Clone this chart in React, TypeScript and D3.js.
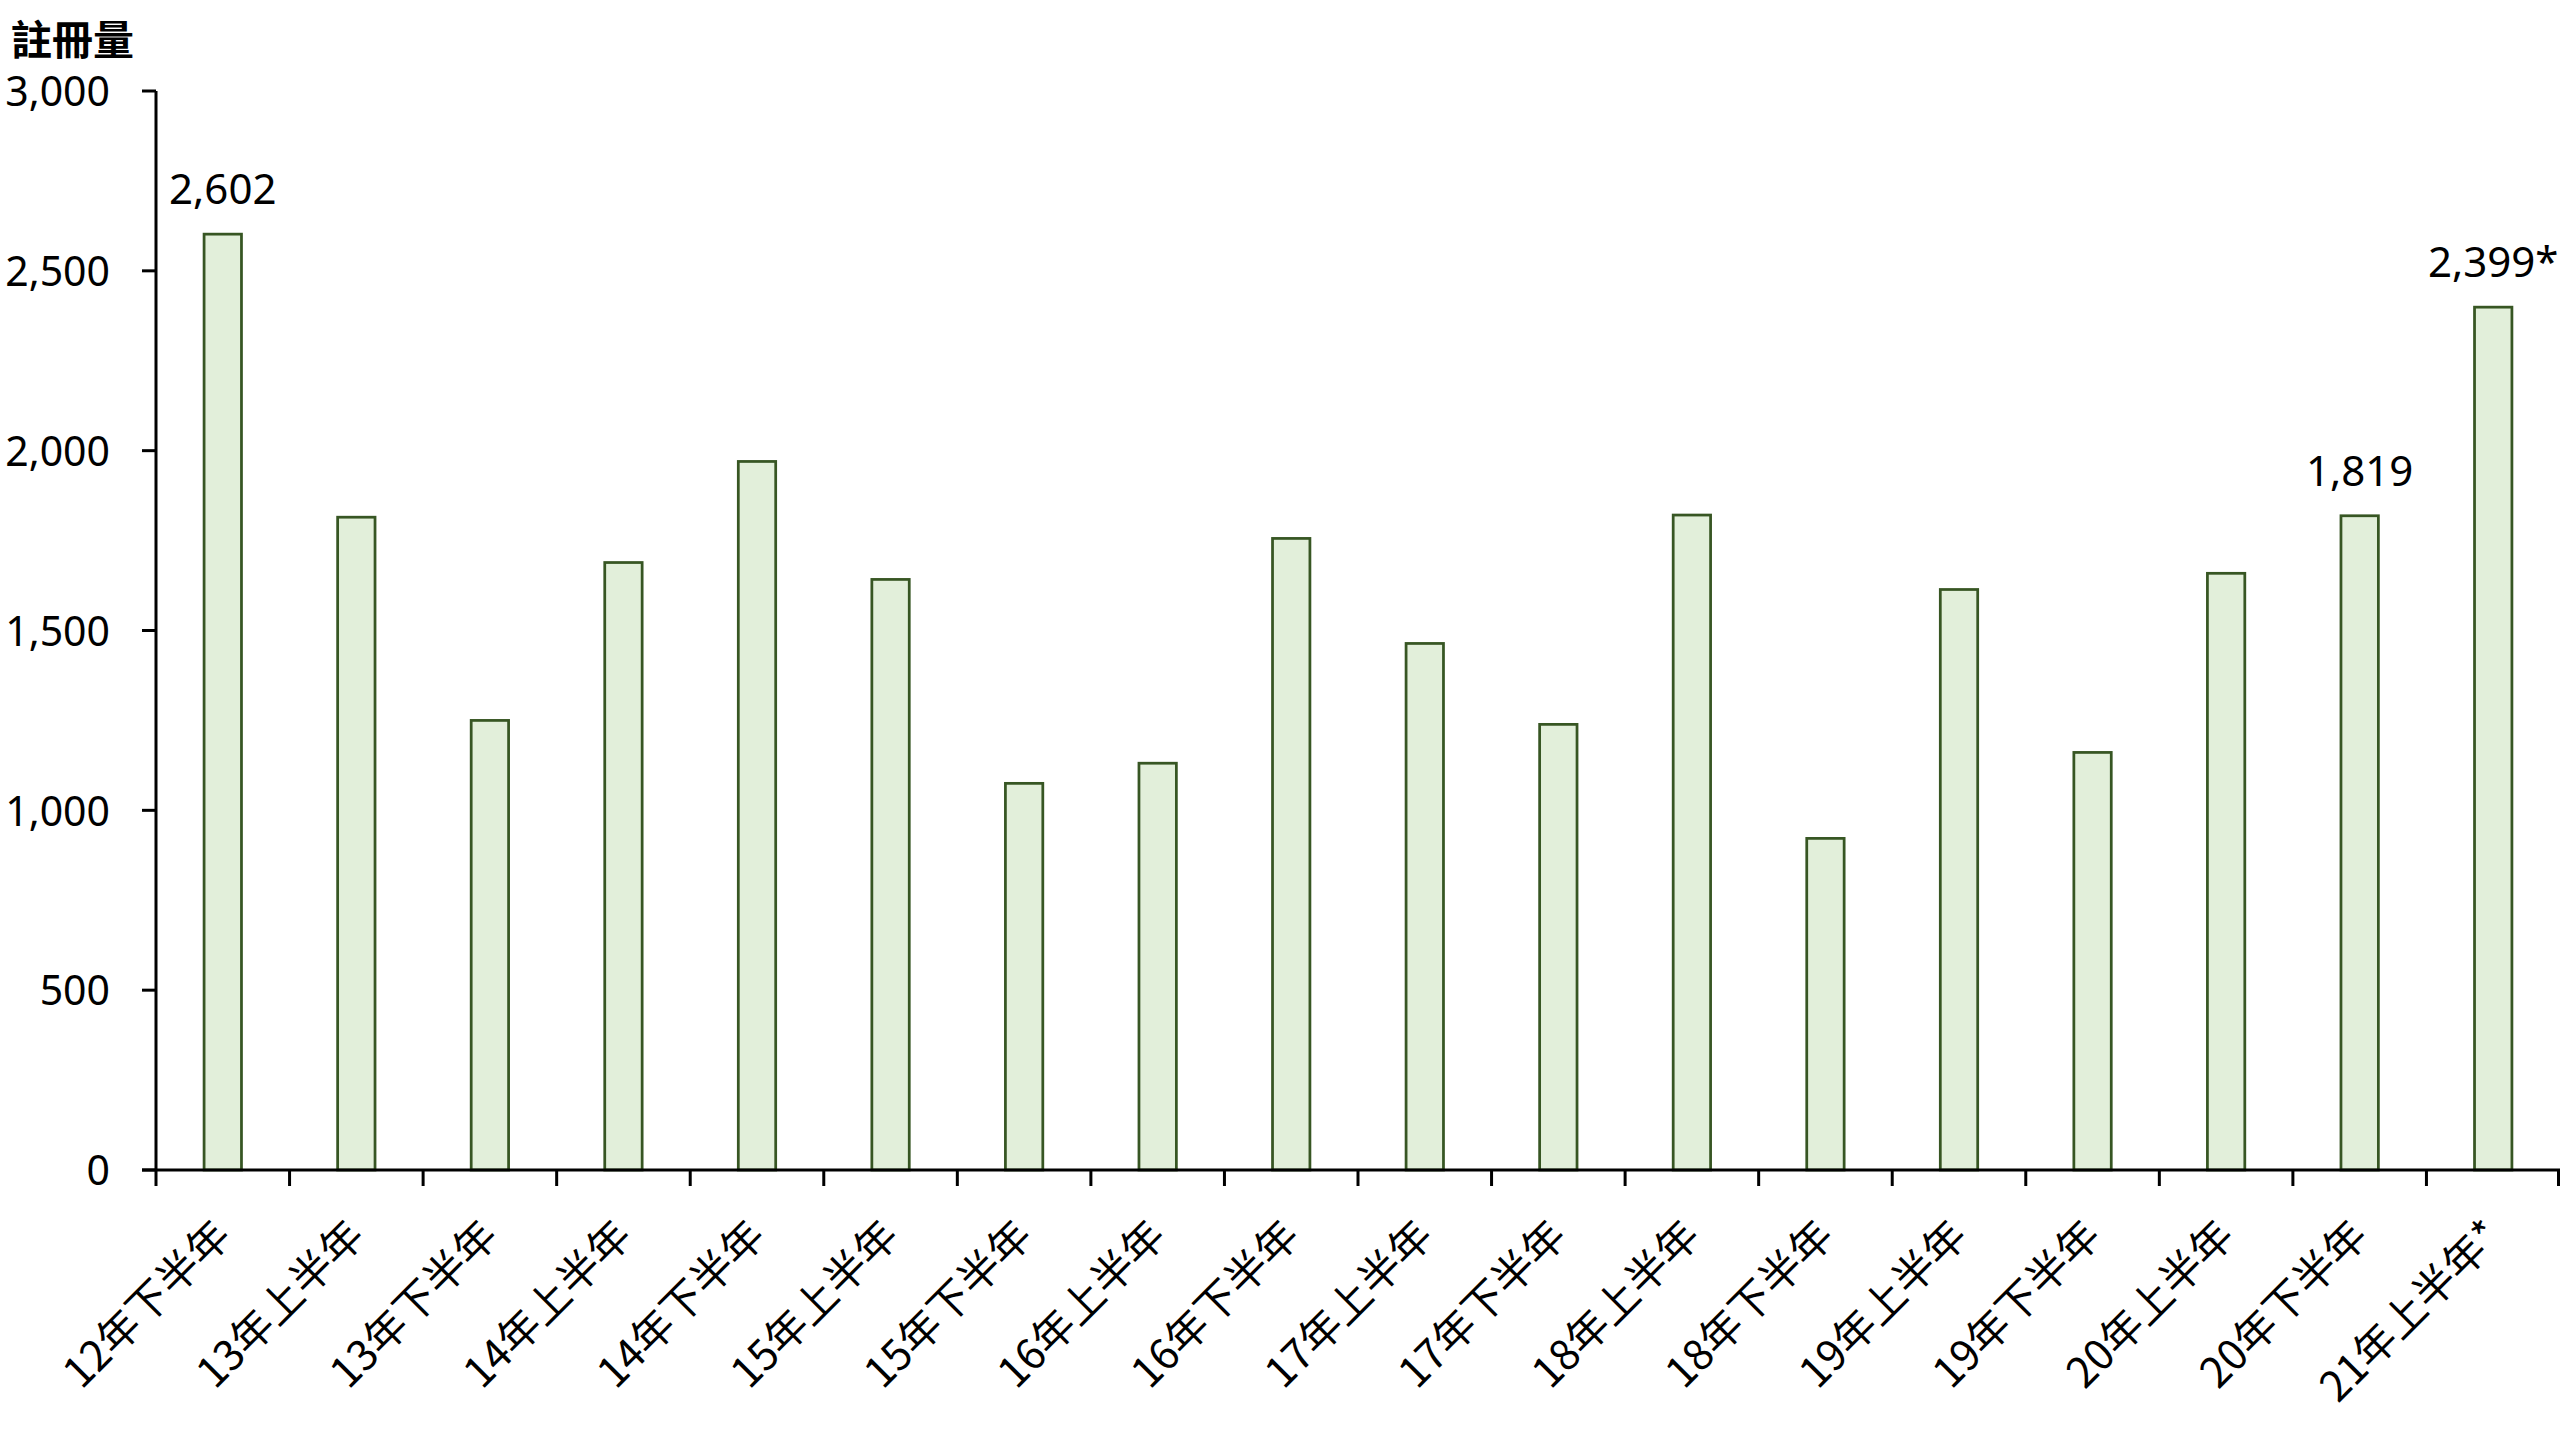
import React from "react";
import * as d3 from "d3";

const categories = [
  "12年下半年", "13年上半年", "13年下半年", "14年上半年", "14年下半年", "15年上半年",
  "15年下半年", "16年上半年", "16年下半年", "17年上半年", "17年下半年", "18年上半年",
  "18年下半年", "19年上半年", "19年下半年", "20年上半年", "20年下半年", "21年上半年*",
];
const values = [2602, 1815, 1250, 1689, 1970, 1642, 1075, 1131, 1756, 1464, 1239, 1821, 922, 1614, 1161, 1659, 1819, 2399];
const labelled: Record<number, string> = { 0: "2,602", 16: "1,819", 17: "2,399*" };
const yTicks = [0, 500, 1000, 1500, 2000, 2500, 3000];
const yTitle = "註冊量";

const W = 2560;
const H = 1440;
const left = 156;
const right = 2560;
const top = 91;
const bottom = 1170;
const FONT = "'Noto Sans', 'Noto Sans CJK TC', sans-serif";
const CJK = "'Noto Sans CJK TC', 'Noto Sans', sans-serif";

export default function App() {
  const x = d3.scaleBand<string>().domain(categories).range([left, right]).padding(0);
  const y = d3.scaleLinear().domain([0, 3000]).range([bottom, top]);
  const bw = x.bandwidth();
  const barW = bw * 0.28;
  const fmt = d3.format(",");
  const edges = categories.map((c) => x(c) as number).concat([right]);

  return (
    <svg width={W} height={H} style={{ position: "absolute", left: 0, top: 0, background: "#fff" }}>
      <text x={11} y={55} fontFamily={CJK} fontWeight="bold" fontSize={41} fill="#000">{yTitle}</text>
      {/* bars */}
      {values.map((v, i) => {
        const cx = (x(categories[i]) as number) + bw / 2;
        return (
          <rect key={i} x={cx - barW / 2} y={y(v)} width={barW} height={y(0) - y(v)}
            fill="#E2EFDA" stroke="#375623" strokeWidth={2.75} />
        );
      })}
      {/* value labels */}
      {values.map((v, i) => {
        if (!(i in labelled)) return null;
        const cx = (x(categories[i]) as number) + bw / 2;
        return (
          <text key={"l" + i} x={cx} y={y(v) - 30} textAnchor="middle" fontFamily={FONT} fontSize={42} fill="#000">
            {labelled[i]}
          </text>
        );
      })}
      {/* y axis */}
      <line x1={left} x2={left} y1={top} y2={bottom} stroke="#000" strokeWidth={3} />
      {yTicks.map((t) => (
        <g key={t}>
          <line x1={left - 14} x2={left} y1={y(t)} y2={y(t)} stroke="#000" strokeWidth={3} />
          <text x={110} y={y(t)} dy="0.37em" textAnchor="end" fontFamily={FONT} fontSize={41} fill="#000">
            {fmt(t)}
          </text>
        </g>
      ))}
      {/* x axis */}
      <line x1={left - 14} x2={right} y1={bottom} y2={bottom} stroke="#000" strokeWidth={3} />
      {edges.map((e, i) => (
        <line key={"t" + i} x1={Math.min(e, right - 1.5)} x2={Math.min(e, right - 1.5)} y1={bottom} y2={bottom + 16} stroke="#000" strokeWidth={3} />
      ))}
      {categories.map((c) => {
        const cx = (x(c) as number) + bw / 2;
        return (
          <text key={c} transform={`translate(${cx},${1228}) rotate(-45)`} textAnchor="end" dy="0.35em"
            fontFamily={CJK} fontSize={42} fill="#000">
            {c}
          </text>
        );
      })}
    </svg>
  );
}
